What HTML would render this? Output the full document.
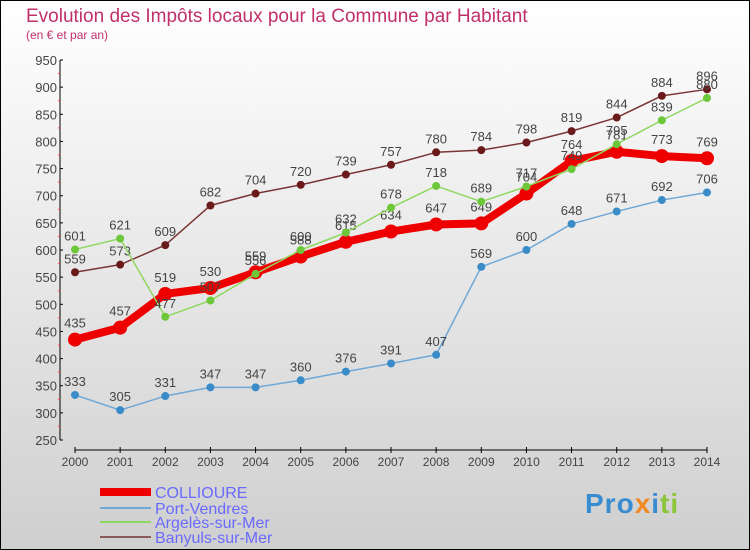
<!DOCTYPE html>
<html><head><meta charset="utf-8"><style>
body{margin:0}
#c{width:750px;height:550px;position:relative;overflow:hidden}
svg{font-family:"Liberation Sans",sans-serif}
</style></head><body>
<div id="c">
<svg id="s" width="750" height="550">
<defs><linearGradient id="bg" x1="0" y1="0" x2="0" y2="1"><stop offset="0" stop-color="#ffffff"/><stop offset="1" stop-color="#cfcfcf"/></linearGradient></defs>
<rect x="0.5" y="0.5" width="749" height="549" fill="url(#bg)" stroke="#000"/>
<text x="26" y="22" font-size="19" fill="#c0306a">Evolution des Impôts locaux pour la Commune par Habitant</text>
<text x="26" y="39" font-size="12" fill="#c0306a">(en € et par an)</text>
<g id="axes"></g><g id="series"></g><g id="legend"></g>
</svg></div>
<script>
const years=[2000,2001,2002,2003,2004,2005,2006,2007,2008,2009,2010,2011,2012,2013,2014];
const collioure=[435,457,519,530,559,588,615,634,647,649,704,764,781,773,769];
const portVendres=[333,305,331,347,347,360,376,391,407,569,600,648,671,692,706];
const argeles=[601,621,477,507,556,600,632,678,718,689,717,749,795,839,880];
const banyuls=[559,573,609,682,704,720,739,757,780,784,798,819,844,884,896];
const yTicks=[250,300,350,400,450,500,550,600,650,700,750,800,850,900,950];
const seriesNames=["COLLIOURE","Port-Vendres","Argelès-sur-Mer","Banyuls-sur-Mer"];
const NS="http://www.w3.org/2000/svg";
function x(i){return 75+i*(632/14);}
function y(v){return 440-(v-250)*380/700;}
function mk(tag,attrs,parent,txt){const e=document.createElementNS(NS,tag);for(const k in attrs)e.setAttribute(k,attrs[k]);if(txt!==undefined)e.textContent=txt;parent.appendChild(e);return e;}
const ax=document.getElementById('axes');
let e=mk('line',{x1:60,y1:60,x2:60,y2:440,stroke:'#000'},ax);


e=mk('line',{x1:75,y1:450,x2:707,y2:450,stroke:'#000'},ax);


yTicks.forEach(v=>{mk('line',{x1:60,y1:y(v),x2:63,y2:y(v),stroke:'#000'},ax);
 if(v<950)mk('line',{x1:58,y1:y(v+25),x2:60,y2:y(v+25),stroke:'#f44'},ax);
 e=mk('text',{x:57,y:y(v)+5,'font-size':13,fill:'#444','text-anchor':'end'},ax,v);
 
 });
years.forEach((yr,i)=>{mk('line',{x1:x(i),y1:447,x2:x(i),y2:453,stroke:'#000'},ax);
 e=mk('text',{x:x(i),y:466,'font-size':12,fill:'#444','text-anchor':'middle'},ax,yr);
 
 });
const sg=document.getElementById('series');
function draw(data,color,w,r,name,dot){
 const g=mk('g',{},sg);
 
 
 const pl=mk('polyline',{points:data.map((v,i)=>x(i)+','+y(v)).join(' '),fill:'none',stroke:color,'stroke-width':w,'stroke-linejoin':'round'},g);
 
 
 data.forEach((v,i)=>{const c=mk('circle',{cx:x(i),cy:y(v),r:r,fill:dot},g);
  
  
  const t=mk('text',{x:x(i),y:y(v)-9-(r>4?3:0),'font-size':13,fill:'#444','text-anchor':'middle'},g,v);
  
  });
}
draw(portVendres,'#6fa8d6',1.5,4,'port-vendres','#3a8cc8');
draw(banyuls,'#7a3535',1.5,4,'banyuls','#6a1a1a');
draw(collioure,'#ee0000',8,7,'collioure','#ee0000');
draw(argeles,'#8fd860',1.5,4,'argeles','#6cc83a');
const lg=document.getElementById('legend');
const lc=['#ee0000','#6fa8d6','#8fd860','#8a5a5a'],lw=[8,2,2,2],ly=[492,508,522,537];
seriesNames.forEach((n,i)=>{const l=mk('line',{x1:100,y1:ly[i],x2:151,y2:ly[i],stroke:lc[i],'stroke-width':lw[i]},lg);
 
 
 const t=mk('text',{x:155,y:ly[i]+6,'font-size':16,fill:'#6a6aff'},lg,n);
 
 });
</script>
<div style="position:absolute;left:585px;top:488px;font:bold 28px 'Liberation Sans',sans-serif;letter-spacing:1px"><span style="color:#3a8cd0">Pro</span><span style="color:#f08a20">x</span><span style="color:#3a8cd0">i</span><span style="color:#8cc43a">ti</span></div>
</body></html>
